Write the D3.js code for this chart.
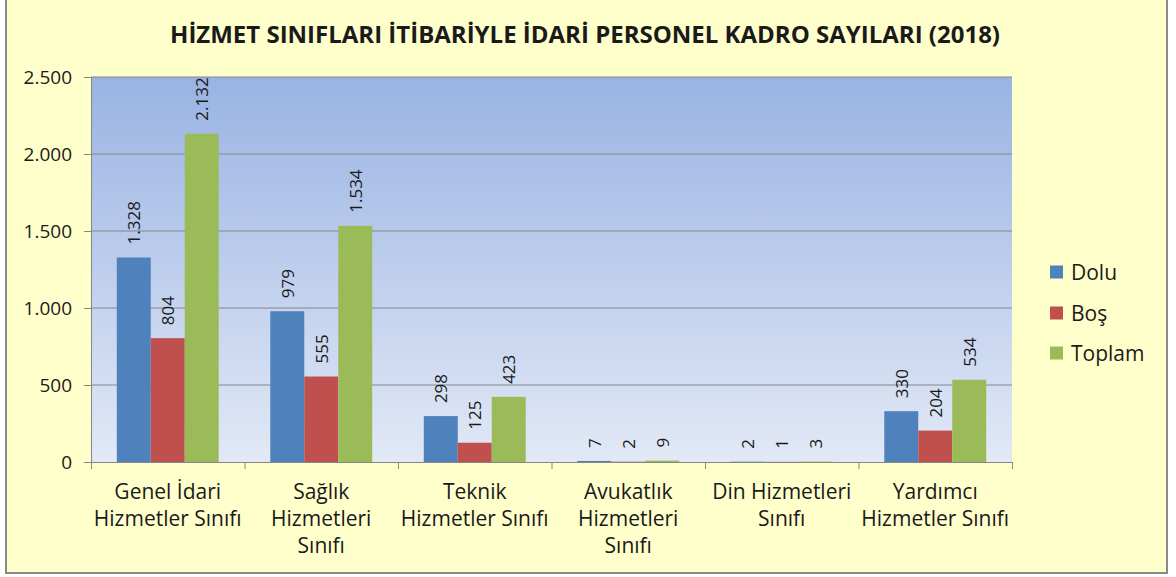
<!DOCTYPE html>
<html>
<head>
<meta charset="utf-8">
<script src="https://cdn.jsdelivr.net/npm/d3@7"></script>
<style>
  html, body { margin: 0; padding: 0; background: #ffffff; }
  svg { display: block; }
  text { font-family: "Open Sans", Lato, sans-serif; fill: #1a1a1a; }
</style>
</head>
<body>
<svg id="chart" width="1176" height="577"></svg>
<script>
const title = "HİZMET SINIFLARI İTİBARİYLE İDARİ PERSONEL KADRO SAYILARI (2018)";
const categories = [
  ["Genel İdari", "Hizmetler Sınıfı"],
  ["Sağlık", "Hizmetleri", "Sınıfı"],
  ["Teknik", "Hizmetler Sınıfı"],
  ["Avukatlık", "Hizmetleri", "Sınıfı"],
  ["Din Hizmetleri", "Sınıfı"],
  ["Yardımcı", "Hizmetler Sınıfı"]
];
const seriesNames = ["Dolu", "Boş", "Toplam"];
const seriesColors = ["#4F81BD", "#C0504D", "#9BBB59"];
const dolu   = [1328, 979, 298, 7, 2, 330];
const bos    = [804, 555, 125, 2, 1, 204];
const toplam = [2132, 1534, 423, 9, 3, 534];
const yTicks = [0, 500, 1000, 1500, 2000, 2500];

const seriesValues = [dolu, bos, toplam];
const tr = d3.formatLocale({decimal: ",", thousands: ".", grouping: [3], currency: ["", " TL"]});
const fmt = tr.format(",d");

const svg = d3.select("#chart");
const W = 1176, H = 577;
const plot = {left: 91, right: 1012, top: 77, bottom: 462};

// background + frame
svg.append("rect").attr("x", 0).attr("y", 0).attr("width", W).attr("height", H).attr("fill", "#ffffff");
svg.append("rect").attr("x", 6).attr("y", -1).attr("width", 1161).attr("height", 574)
  .attr("fill", "#FFFFCC").attr("stroke", "#8a8a8a").attr("stroke-width", 2);

// gradient
const defs = svg.append("defs");
const grad = defs.append("linearGradient").attr("id", "pg").attr("x1", 0).attr("y1", 0).attr("x2", 0).attr("y2", 1);
grad.append("stop").attr("offset", "0%").attr("stop-color", "#99B3E3");
grad.append("stop").attr("offset", "100%").attr("stop-color", "#E2E9F6");

svg.append("rect").attr("x", plot.left).attr("y", plot.top)
  .attr("width", plot.right - plot.left).attr("height", plot.bottom - plot.top)
  .attr("fill", "url(#pg)");

const y = d3.scaleLinear().domain([0, 2500]).range([plot.bottom, plot.top]);
const x0 = d3.scaleBand().domain(d3.range(categories.length)).range([plot.left, plot.right]).padding(0);
const x1 = d3.scaleBand().domain(d3.range(seriesNames.length))
  .range([x0.bandwidth() * 0.168, x0.bandwidth() * 0.832]).padding(0);

// gridlines
svg.append("g").selectAll("line").data(yTicks.filter(t => t > 0)).join("line")
  .attr("x1", plot.left).attr("x2", plot.right)
  .attr("y1", d => y(d)).attr("y2", d => y(d))
  .attr("stroke", "#868686").attr("stroke-width", 1);

// bars
const groups = svg.append("g").selectAll("g").data(categories).join("g")
  .attr("transform", (d, i) => `translate(${x0(i)},0)`);
groups.selectAll("rect").data((d, i) => seriesValues.map((s, j) => ({j, v: s[i]}))).join("rect")
  .attr("x", d => x1(d.j)).attr("width", x1.bandwidth())
  .attr("y", d => y(d.v)).attr("height", d => y(0) - y(d.v))
  .attr("fill", d => seriesColors[d.j]);

// data labels
groups.selectAll("text.lbl").data((d, i) => seriesValues.map((s, j) => ({j, v: s[i]}))).join("text")
  .attr("class", "lbl")
  .attr("transform", d => `translate(${x1(d.j) + x1.bandwidth() / 2},${y(d.v) - 13}) rotate(-90)`)
  .attr("text-anchor", "start").attr("dominant-baseline", "central")
  .attr("font-size", 17).text(d => fmt(d.v));

// y axis
const yAxis = d3.axisLeft(y).tickValues(yTicks).tickSize(7).tickFormat(fmt);
const ya = svg.append("g").attr("transform", `translate(${plot.left},0)`).call(yAxis);
ya.select(".domain").attr("stroke", "#868686");
ya.selectAll(".tick line").attr("stroke", "#868686");
ya.selectAll(".tick text").attr("font-size", 19).attr("x", -19).attr("fill", "#1a1a1a")
  .style("font-family", "'Open Sans', sans-serif");

// x axis
const xAxis = d3.axisBottom(d3.scaleLinear().domain([0, categories.length]).range([plot.left, plot.right]))
  .tickValues(d3.range(categories.length + 1)).tickSize(7).tickFormat("");
const xa = svg.append("g").attr("transform", `translate(0,${plot.bottom})`).call(xAxis);
xa.select(".domain").attr("stroke", "#868686");
xa.selectAll(".tick line").attr("stroke", "#868686");

// category labels
svg.append("g").selectAll("text").data(categories).join("text")
  .attr("x", (d, i) => x0(i) + x0.bandwidth() / 2)
  .attr("y", 499).attr("text-anchor", "middle").attr("font-size", 21)
  .each(function(d) {
    d3.select(this).selectAll("tspan").data(d).join("tspan")
      .attr("x", d3.select(this).attr("x")).attr("dy", (t, k) => k === 0 ? 0 : 27).text(t => t);
  });

// title
svg.append("text").attr("x", 585).attr("y", 43).attr("text-anchor", "middle")
  .attr("font-size", 24).attr("font-weight", "bold").text(title);

// legend
const leg = svg.append("g").selectAll("g").data(seriesNames).join("g")
  .attr("transform", (d, i) => `translate(1050,${[272, 313, 353][i]})`);
leg.append("rect").attr("x", 0).attr("y", -6.5).attr("width", 13).attr("height", 13)
  .attr("fill", (d, i) => seriesColors[i]);
leg.append("text").attr("x", 21).attr("y", 0).attr("dominant-baseline", "central")
  .attr("font-size", 21).text(d => d);
</script>
</body>
</html>
